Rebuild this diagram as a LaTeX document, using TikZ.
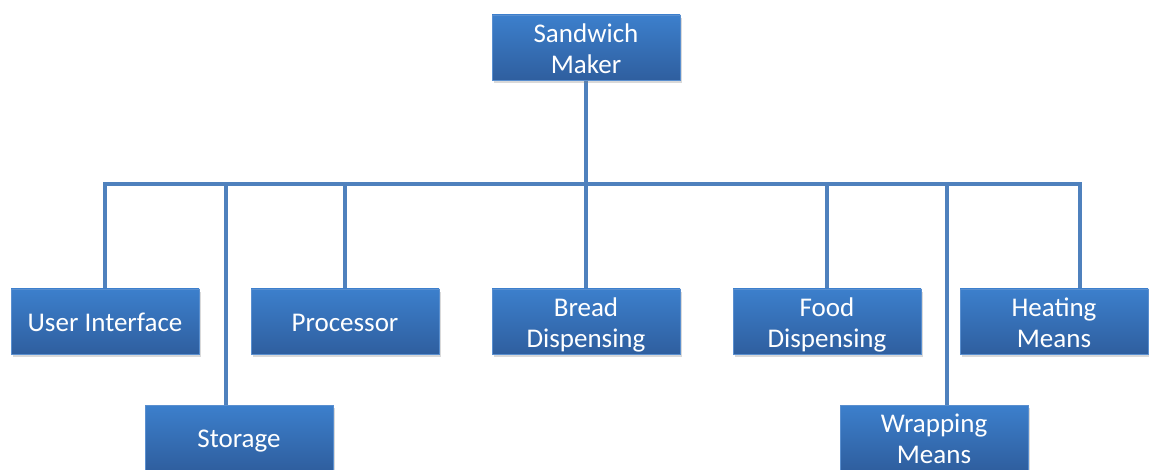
\documentclass[tikz,border=0pt]{standalone}
\usepackage{fontspec}
\setmainfont{Carlito}
\usetikzlibrary{shadows,backgrounds}
\definecolor{boxtop}{HTML}{3C7FCC}
\definecolor{boxbot}{HTML}{2F5F9F}
\definecolor{boxedge}{HTML}{5A8FCF}
\definecolor{linec}{HTML}{4F81BD}
\newcommand\boxtext[1]{\raisebox{-10.5pt}[0pt][0pt]{\begin{tabular}{@{}c@{}}#1\end{tabular}}}
\begin{document}
\begin{tikzpicture}[x=1pt,y=-1pt,
  box/.style={rectangle, minimum width=188pt, minimum height=65pt, inner sep=0pt,
    top color=boxtop, bottom color=boxbot, draw=boxedge, line width=0.6pt,
    text=white, font=\fontsize{27}{31}\selectfont, align=center,
    drop shadow={shadow xshift=2pt, shadow yshift=-3pt, opacity=0.3}},
  conn/.style={draw=linec, line width=4pt, line join=miter}]
\useasboundingbox (0,0) rectangle (1149,470);
\node[box] (sm) at (586,47.5) {\boxtext{Sandwich\\Maker}};
\node[box] (ui) at (105,321.5) {\boxtext{User Interface}};
\node[box] (pr) at (345,321.5) {\boxtext{Processor}};
\node[box] (br) at (586,321.5) {\boxtext{Bread\\Dispensing}};
\node[box] (fd) at (827,321.5) {\boxtext{Food\\Dispensing}};
\node[box] (ht) at (1054,321.5) {\boxtext{Heating\\Means}};
\node[box] (st) at (239,437.5) {\boxtext{Storage}};
\node[box] (wr) at (934,437.5) {\boxtext{Wrapping\\Means}};
\coordinate (busL) at (105,184);
\coordinate (busR) at (1080,184);
\coordinate (sd) at (226,184);
\coordinate (wd) at (947,184);
\begin{scope}[on background layer]
\draw[conn] (ui.north) -- (busL) -- (busR) -- (busR |- ht.north);
\draw[conn] (sm.south) -- (sm.south |- busL);
\draw[conn] (sd) -- (sd |- st.north);
\draw[conn] (pr.north |- busL) -- (pr.north);
\draw[conn] (br.north |- busL) -- (br.north);
\draw[conn] (fd.north |- busL) -- (fd.north);
\draw[conn] (wd) -- (wd |- wr.north);
\end{scope}
\end{tikzpicture}
\end{document}
